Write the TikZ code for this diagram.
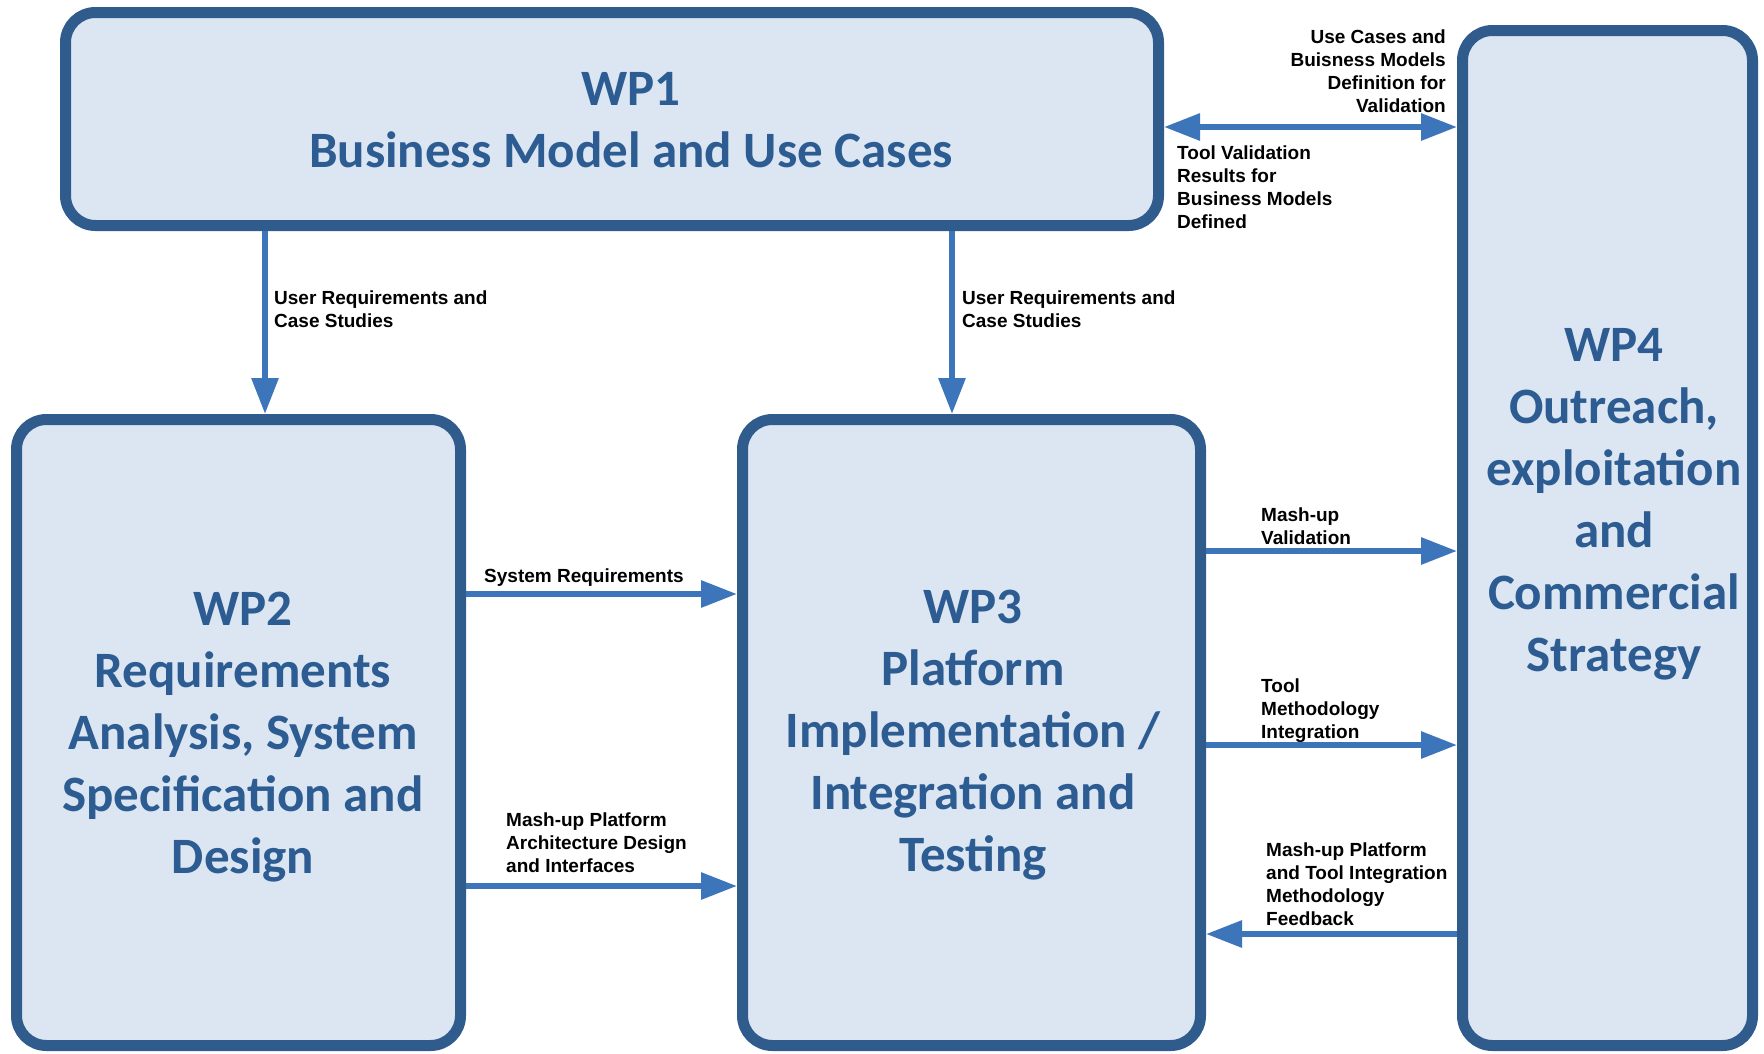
\documentclass[tikz,border=0pt]{standalone}
\usepackage{fontspec}
\setmainfont{Carlito}
\newfontfamily\labfont{Liberation Sans}
\usetikzlibrary{arrows.meta}
\definecolor{wpborder}{HTML}{2F5B8D}
\definecolor{wpfill}{HTML}{DCE6F2}
\definecolor{wptext}{HTML}{2C5C91}
\definecolor{wparrow}{HTML}{3C75B9}
\begin{document}
\begin{tikzpicture}[x=1pt,y=-1pt,
  wpbox/.style={draw=wpborder, fill=wpfill, line width=11pt, rounded corners=30pt, inner sep=0pt},
  wptitle/.style={text=wptext, font=\fontsize{51}{62}\selectfont\bfseries, align=center, inner sep=0pt},
  lbl/.style={font=\labfont\bfseries\fontsize{19}{23}\selectfont, inner sep=0pt, text=black},
  tip/.tip={Triangle[length=36pt,width=26pt]},
  arr/.style={draw=wparrow, line width=6pt, -tip},
  darr/.style={draw=wparrow, line width=6pt, tip-tip}]
\useasboundingbox[fill=white] (0,0) rectangle (1764,1053);

% boxes
\node[wpbox, minimum width=1093pt, minimum height=213pt] (wp1) at (612,119) {};
\node[wpbox, minimum width=444pt, minimum height=626pt] (wp2) at (238.5,732.5) {};
\node[wpbox, minimum width=458pt, minimum height=626pt] (wp3) at (971.5,732.5) {};
\node[wpbox, minimum width=290pt, minimum height=1015pt] (wp4) at (1607.5,538) {};

% titles
\node[wptitle] (t1) at (631,120) {WP1\\Business Model and Use Cases};
\node[wptitle] (t2) at (243,737) {WP2\\Requirements\\Analysis, System\\Specification and\\Design};
\node[wptitle] (t3) at (973,735) {WP3\\Platform\\Implementation /\\Integration and\\Testing};
\node[wptitle] (t4) at (1614,504) {WP4\\Outreach,\\exploitation\\and\\Commercial\\Strategy};

% helper coordinates
\coordinate (xa) at (265,0);
\coordinate (xb) at (952,0);
\coordinate (ya) at (0,127);
\coordinate (yb) at (0,594);
\coordinate (yc) at (0,886);
\coordinate (yd) at (0,551);
\coordinate (ye) at (0,745);
\coordinate (yf) at (0,934);

% connectors
\draw[arr] (xa |- wp1.south) -- (xa |- wp2.north);
\draw[arr] (xb |- wp1.south) -- (xb |- wp3.north);
\draw[darr] (wp1.east |- ya) -- (wp4.west |- ya);
\draw[arr] (wp2.east |- yb) -- (wp3.west |- yb);
\draw[arr] (wp2.east |- yc) -- (wp3.west |- yc);
\draw[arr] (wp3.east |- yd) -- (wp4.west |- yd);
\draw[arr] (wp3.east |- ye) -- (wp4.west |- ye);
\draw[arr] (wp4.west |- yf) -- (wp3.east |- yf);

% labels
\node[lbl, anchor=north west, align=left] (l1) at (274,291) {User Requirements and\\Case Studies};
\node[lbl, anchor=north west, align=left] (l2) at (962,291) {User Requirements and\\Case Studies};
\node[lbl, anchor=north east, align=right] (l3) at (1446,30) {Use Cases and\\Buisness Models\\Definition for\\Validation};
\node[lbl, anchor=north west, align=left] (l4) at (1177,146) {Tool Validation\\Results for\\Business Models\\Defined};
\node[lbl, anchor=north west, align=left] (l5) at (484,569) {System Requirements};
\node[lbl, anchor=north west, align=left] (l6) at (506,813) {Mash-up Platform\\Architecture Design\\and Interfaces};
\node[lbl, anchor=north west, align=left] (l7) at (1261,508) {Mash-up\\Validation};
\node[lbl, anchor=north west, align=left] (l8) at (1261,679) {Tool\\Methodology\\Integration};
\node[lbl, anchor=north west, align=left] (l9) at (1266,843) {Mash-up Platform\\and Tool Integration\\Methodology\\Feedback};
\end{tikzpicture}
\end{document}
